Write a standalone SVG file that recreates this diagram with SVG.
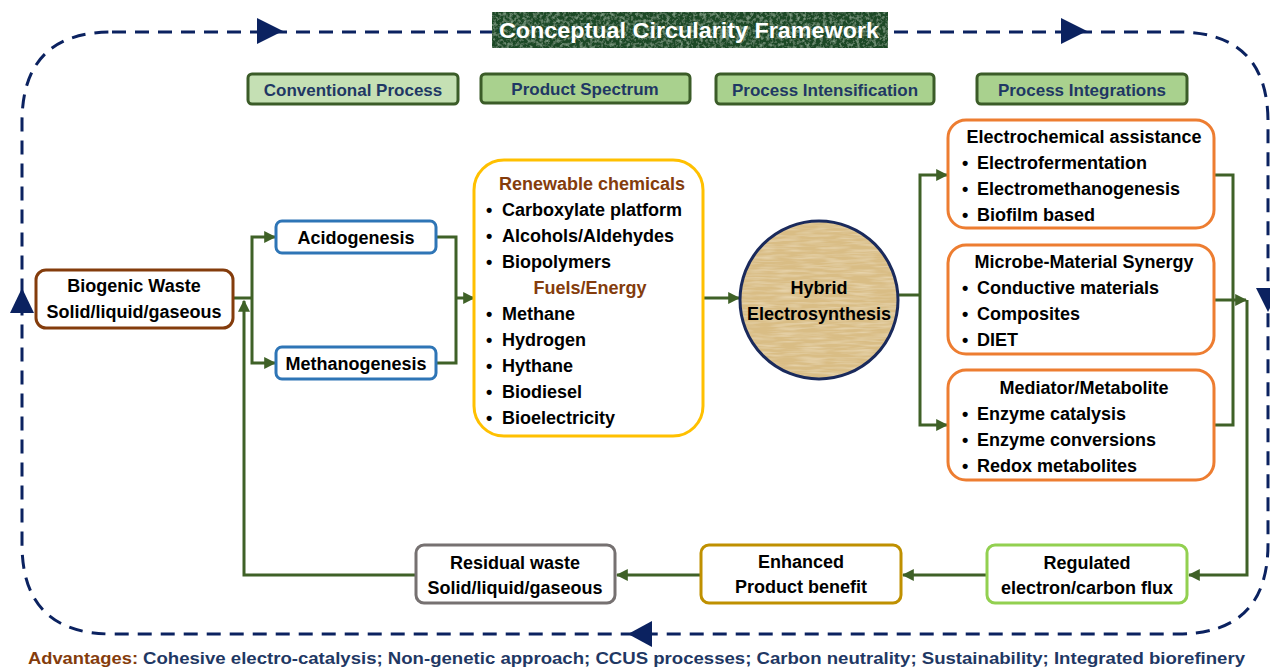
<svg xmlns="http://www.w3.org/2000/svg" width="1270" height="669" viewBox="0 0 1270 669">
  <defs>
    <style>
      text { font-family: "Liberation Sans", Arial, sans-serif; font-weight: bold; }
      .body { font-size: 18px; fill: #000; }
      .ctr { text-anchor: middle; }
      .hdr rect { stroke: #3b5c28; stroke-width: 3; }
      .hdr text { font-size: 17px; fill: #1f3864; text-anchor: middle; }
      .brown { fill: #843c0c; }
      .wire { fill: none; stroke: #3f6127; stroke-width: 3; }
      .arrow { marker-end: url(#ga); }
      .loop { fill: none; stroke: #0b2260; stroke-width: 3; stroke-dasharray: 14 9; }
      .navytri { fill: #0b2260; }
      .box { fill: #fff; stroke-width: 3; }
    </style>
    <marker id="ga" viewBox="0 0 10 10" refX="9" refY="5" markerWidth="12" markerHeight="12" markerUnits="userSpaceOnUse" orient="auto">
      <path d="M0,0 L10,5 L0,10 z" fill="#3f6127"/>
    </marker>
    <!-- mottled green for the title plate -->
    <filter id="moss" x="0" y="0" width="100%" height="100%">
      <feTurbulence type="fractalNoise" baseFrequency="0.3" numOctaves="3" seed="4" result="n"/>
      <feColorMatrix in="n" type="matrix" values="0 0 0 0 0.35  0 0 0 0 0.55  0 0 0 0 0.38  0 0 0 1.4 -0.62" result="spots"/>
      <feComposite in="spots" in2="SourceGraphic" operator="in" result="clip"/>
      <feMerge><feMergeNode in="SourceGraphic"/><feMergeNode in="clip"/></feMerge>
    </filter>
    <!-- fibrous parchment for the hub -->
    <filter id="paper" x="0" y="0" width="100%" height="100%">
      <feTurbulence type="fractalNoise" baseFrequency="0.04 0.4" numOctaves="2" seed="7" result="n"/>
      <feColorMatrix in="n" type="matrix" values="0 0 0 0 0.93  0 0 0 0 0.84  0 0 0 0 0.64  0 0 0 0.9 -0.35" result="fib"/>
      <feComposite in="fib" in2="SourceGraphic" operator="in" result="clip"/>
      <feMerge><feMergeNode in="SourceGraphic"/><feMergeNode in="clip"/></feMerge>
    </filter>
  </defs>

  <rect width="1270" height="669" fill="#fff"/>

  <!-- circular dashed frame -->
  <g id="frame">
    <path class="loop" d="M112,32 H1178 Q1268,32 1268,122 V544 Q1268,634 1178,634 H112 Q22,634 22,544 V122 Q22,32 112,32 Z"/>
    <path class="navytri" d="M257,18 L283,31 L257,44 Z"/>
    <path class="navytri" d="M1061,18 L1087,31 L1061,44 Z"/>
    <path class="navytri" d="M1256,288 L1280,288 L1268,312 Z"/>
    <path class="navytri" d="M652,621 L628,634 L652,647 Z"/>
    <path class="navytri" d="M10,313 L34,313 L22,288 Z"/>
  </g>

  <g id="title">
    <rect x="492" y="12" width="396" height="36" fill="#1f4a28" filter="url(#moss)"/>
    <text x="689" y="38" font-size="22" fill="#fff" text-anchor="middle" textLength="380" lengthAdjust="spacingAndGlyphs">Conceptual Circularity Framework</text>
  </g>

  <g id="headers" class="hdr">
    <g id="h-conventional">
      <rect x="248" y="74" width="210" height="30" rx="4" fill="#c5e0b4"/>
      <text x="353" y="96">Conventional Process</text>
    </g>
    <g id="h-spectrum">
      <rect x="481" y="74" width="209" height="29" rx="4" fill="#a9d18e"/>
      <text x="585" y="95">Product Spectrum</text>
    </g>
    <g id="h-intensification">
      <rect x="716" y="74" width="218" height="30" rx="4" fill="#a9d18e"/>
      <text x="825" y="96">Process Intensification</text>
    </g>
    <g id="h-integrations">
      <rect x="977" y="74" width="210" height="30" rx="4" fill="#a9d18e"/>
      <text x="1082" y="96">Process Integrations</text>
    </g>
  </g>

  <!-- flow lines -->
  <g id="connectors">
    <path class="wire" d="M233,298 H252"/>
    <path class="wire arrow" d="M252,298 V237 H275"/>
    <path class="wire arrow" d="M252,298 V363 H275"/>
    <path class="wire" d="M436,237 H456 V363 H436"/>
    <path class="wire arrow" d="M456,298 H474"/>
    <path class="wire arrow" d="M703,298 H739"/>
    <path class="wire" d="M898,295 H920"/>
    <path class="wire arrow" d="M920,295 V175 H947"/>
    <path class="wire arrow" d="M920,295 V425 H947"/>
    <path class="wire" d="M1214,175 H1233 V425 H1214"/>
    <path class="wire arrow" d="M1214,300 H1246"/>
    <path class="wire arrow" d="M1247,300 V575 H1189"/>
    <path class="wire arrow" d="M987,575 H903"/>
    <path class="wire arrow" d="M701,575 H617"/>
    <path class="wire arrow" d="M416,575 H244 V301"/>
  </g>

  <g id="biogenic-waste">
    <rect class="box" x="36" y="270" width="197" height="58" rx="10" stroke="#843c0c"/>
    <text class="body ctr" x="134" y="292">Biogenic Waste</text>
    <text class="body ctr" x="134" y="318">Solid/liquid/gaseous</text>
  </g>

  <g id="acidogenesis">
    <rect class="box" x="276" y="221" width="160" height="32" rx="6" stroke="#2e75b6"/>
    <text class="body ctr" x="356" y="244">Acidogenesis</text>
  </g>

  <g id="methanogenesis">
    <rect class="box" x="276" y="347" width="160" height="32" rx="6" stroke="#2e75b6"/>
    <text class="body ctr" x="356" y="370">Methanogenesis</text>
  </g>

  <g id="product-spectrum">
    <rect class="box" x="474" y="160" width="229" height="276" rx="30" stroke="#ffc000"/>
    <text class="body ctr brown" x="592" y="190">Renewable chemicals</text>
    <text class="body" y="216"><tspan x="486">•</tspan><tspan x="502">Carboxylate platform</tspan></text>
    <text class="body" y="242"><tspan x="486">•</tspan><tspan x="502">Alcohols/Aldehydes</tspan></text>
    <text class="body" y="268"><tspan x="486">•</tspan><tspan x="502">Biopolymers</tspan></text>
    <text class="body ctr brown" x="590" y="294">Fuels/Energy</text>
    <text class="body" y="320"><tspan x="486">•</tspan><tspan x="502">Methane</tspan></text>
    <text class="body" y="346"><tspan x="486">•</tspan><tspan x="502">Hydrogen</tspan></text>
    <text class="body" y="372"><tspan x="486">•</tspan><tspan x="502">Hythane</tspan></text>
    <text class="body" y="398"><tspan x="486">•</tspan><tspan x="502">Biodiesel</tspan></text>
    <text class="body" y="424"><tspan x="486">•</tspan><tspan x="502">Bioelectricity</tspan></text>
  </g>

  <g id="hybrid-electrosynthesis">
    <circle cx="819" cy="300" r="79" fill="#d9bd85" filter="url(#paper)"/>
    <circle cx="819" cy="300" r="79" fill="none" stroke="#1a2a5c" stroke-width="3"/>
    <text class="body ctr" x="819" y="294">Hybrid</text>
    <text class="body ctr" x="819" y="320">Electrosynthesis</text>
  </g>

  <g id="electrochemical-assistance">
    <rect class="box" x="948" y="120" width="266" height="108" rx="18" stroke="#ed7d31"/>
    <text class="body ctr" x="1084" y="143">Electrochemical assistance</text>
    <text class="body" y="169"><tspan x="962">•</tspan><tspan x="977">Electrofermentation</tspan></text>
    <text class="body" y="195"><tspan x="962">•</tspan><tspan x="977">Electromethanogenesis</tspan></text>
    <text class="body" y="221"><tspan x="962">•</tspan><tspan x="977">Biofilm based</tspan></text>
  </g>

  <g id="microbe-material-synergy">
    <rect class="box" x="948" y="245" width="266" height="109" rx="18" stroke="#ed7d31"/>
    <text class="body ctr" x="1084" y="268">Microbe-Material Synergy</text>
    <text class="body" y="294"><tspan x="962">•</tspan><tspan x="977">Conductive materials</tspan></text>
    <text class="body" y="320"><tspan x="962">•</tspan><tspan x="977">Composites</tspan></text>
    <text class="body" y="346"><tspan x="962">•</tspan><tspan x="977">DIET</tspan></text>
  </g>

  <g id="mediator-metabolite">
    <rect class="box" x="948" y="370" width="266" height="110" rx="18" stroke="#ed7d31"/>
    <text class="body ctr" x="1084" y="394">Mediator/Metabolite</text>
    <text class="body" y="420"><tspan x="962">•</tspan><tspan x="977">Enzyme catalysis</tspan></text>
    <text class="body" y="446"><tspan x="962">•</tspan><tspan x="977">Enzyme conversions</tspan></text>
    <text class="body" y="472"><tspan x="962">•</tspan><tspan x="977">Redox metabolites</tspan></text>
  </g>

  <g id="regulated-flux">
    <rect class="box" x="987" y="545" width="200" height="58" rx="8" stroke="#92d050"/>
    <text class="body ctr" x="1087" y="569">Regulated</text>
    <text class="body ctr" x="1087" y="594">electron/carbon flux</text>
  </g>

  <g id="enhanced-benefit">
    <rect class="box" x="701" y="545" width="200" height="58" rx="8" stroke="#bf9000"/>
    <text class="body ctr" x="801" y="568">Enhanced</text>
    <text class="body ctr" x="801" y="593">Product benefit</text>
  </g>

  <g id="residual-waste">
    <rect class="box" x="416" y="545" width="199" height="58" rx="8" stroke="#767171"/>
    <text class="body ctr" x="515" y="569">Residual waste</text>
    <text class="body ctr" x="515" y="594">Solid/liquid/gaseous</text>
  </g>

  <g id="advantages">
    <text x="28" y="664" font-size="17" class="brown" textLength="110" lengthAdjust="spacingAndGlyphs">Advantages:</text>
    <text x="143" y="664" font-size="17" fill="#1f3864" textLength="1102" lengthAdjust="spacingAndGlyphs">Cohesive electro-catalysis; Non-genetic approach; CCUS processes; Carbon neutrality; Sustainability; Integrated biorefinery</text>
  </g>
</svg>
